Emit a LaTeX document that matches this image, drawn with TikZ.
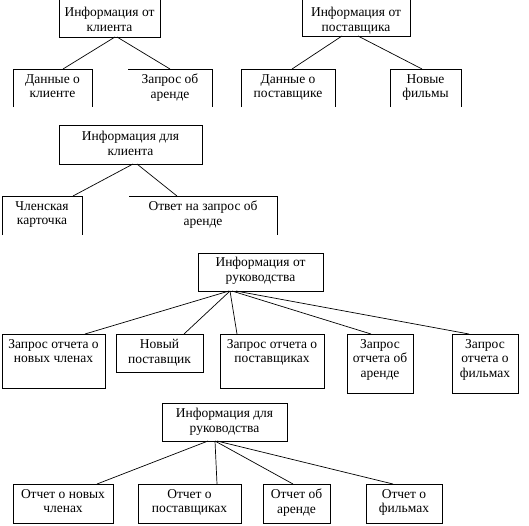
\documentclass[tikz,border=0pt]{standalone}
\usepackage{fontspec}
\setmainfont{Liberation Serif}
\begin{document}
\begin{tikzpicture}[x=1pt,y=-1pt,
  frame/.style={inner sep=0pt, outer sep=0pt, anchor=north west},
  boxed/.style={frame, draw, line width=0.8pt},
  txt/.style={inner sep=0pt, anchor=north, align=center, font=\fontsize{13.5}{14.8}\selectfont},
  conn/.style={line width=0.7pt},
  side/.style={line width=0.8pt}]
\useasboundingbox (0,0) rectangle (529,525);

% ---------- row 1 ----------
\node[frame, minimum width=101, minimum height=39] (A) at (59,-2) {};
\draw[side] (A.north west) -- (A.south west) -- (A.south east) -- (A.north east);
\node[txt] (At) at ([yshift=-9pt]A.north) {Информация от\\клиента};

\node[frame, minimum width=108, minimum height=38] (B) at (302,-2) {};
\draw[side] (B.north west) -- (B.south west) -- (B.south east) -- (B.north east);
\node[txt] (Bt) at ([yshift=-9pt]B.north) {Информация от\\поставщика};

\node[frame, minimum width=79, minimum height=38] (A1) at (13,69) {};
\draw[side] (A1.south west) -- (A1.north west) -- (A1.north east) -- (A1.south east);
\node[txt] (A1t) at ([yshift=-5pt]A1.north) {Данные о\\клиенте};

\node[frame, minimum width=84, minimum height=38] (A2) at (128,69) {};
\draw[side] (A2.north west) -- (A2.north east) -- (A2.south east);
\node[txt] (A2t) at ([yshift=-5pt]A2.north) {Запрос об\\аренде};

\node[frame, minimum width=94, minimum height=38] (B1) at (241,69) {};
\draw[side] (B1.south west) -- (B1.north west) -- (B1.north east) -- (B1.south east);
\node[txt] (B1t) at ([yshift=-5pt]B1.north) {Данные о\\поставщике};

\node[frame, minimum width=71, minimum height=38] (B2) at (390,69) {};
\draw[side] (B2.south west) -- (B2.north west) -- (B2.north east) -- (B2.south east);
\node[txt] (B2t) at ([yshift=-5pt]B2.north) {Новые\\фильмы};

\draw[conn] ([xshift=5.5pt]A.south) -- ([xshift=10.5pt]A1.north);
\draw[conn] ([xshift=7.5pt]A.south) -- (A2.north);
\draw[conn] ([xshift=-14pt]B.south) -- ([xshift=4pt]B1.north);
\draw[conn] ([xshift=2pt]B.south) -- ([xshift=-3.5pt]B2.north);

% ---------- row 2 ----------
\node[boxed, minimum width=143, minimum height=39] (C) at (59,125) {};
\node[txt] (Ct) at ([yshift=-6pt]C.north) {Информация для\\клиента};

\node[frame, minimum width=80, minimum height=39] (C1) at (2,196) {};
\draw[side] (C1.south west) -- (C1.north west) -- (C1.north east) -- (C1.south east);
\node[txt] (C1t) at ([yshift=-5pt]C1.north) {Членская\\карточка};

\node[frame, minimum width=148, minimum height=39] (C2) at (129,196) {};
\draw[side] (C2.north west) -- (C2.north east) -- (C2.south east);
\node[txt] (C2t) at ([yshift=-5pt]C2.north) {Ответ на запрос об\\аренде};

\draw[conn] ([xshift=2.5pt]C.south) -- ([xshift=31pt]C1.north);
\draw[conn] ([xshift=6.5pt]C.south) -- ([xshift=-26pt]C2.north);

% ---------- row 3 ----------
\node[boxed, minimum width=125, minimum height=38] (D) at (198,253) {};
\node[txt] (Dt) at ([yshift=-4pt]D.north) {Информация от\\руководства};

\node[boxed, minimum width=103, minimum height=54] (D1) at (2,334) {};
\node[txt] (D1t) at ([yshift=-5pt]D1.north) {Запрос отчета о\\новых членах};

\node[boxed, minimum width=87, minimum height=38] (D2) at (116,334) {};
\node[txt] (D2t) at ([yshift=-5pt]D2.north) {Новый\\поставщик};

\node[boxed, minimum width=104, minimum height=54] (D3) at (220,334) {};
\node[txt] (D3t) at ([yshift=-5pt]D3.north) {Запрос отчета о\\поставщиках};

\node[boxed, minimum width=66, minimum height=59] (D4) at (347,334) {};
\node[txt] (D4t) at ([yshift=-5pt]D4.north) {Запрос\\отчета об\\аренде};

\node[boxed, minimum width=66, minimum height=59] (D5) at (452,334) {};
\node[txt] (D5t) at ([yshift=-5pt]D5.north) {Запрос\\отчета о\\фильмах};

\draw[conn] ([xshift=-31.5pt]D.south) -- ([xshift=31.5pt]D1.north);
\draw[conn] ([xshift=-30.5pt]D.south) -- ([xshift=24.5pt]D2.north);
\draw[conn] ([xshift=-30.5pt]D.south) -- ([xshift=-35pt]D3.north);
\draw[conn] ([xshift=-28.5pt]D.south) -- ([xshift=-9pt]D4.north);
\draw[conn] ([xshift=-24.5pt]D.south) -- ([xshift=-16pt]D5.north);

% ---------- row 4 ----------
\node[boxed, minimum width=125, minimum height=38] (E) at (162,403) {};
\node[txt] (Et) at ([yshift=-5pt]E.north) {Информация для\\руководства};

\node[boxed, minimum width=100, minimum height=39] (E1) at (13,484) {};
\node[txt] (E1t) at ([yshift=-5pt]E1.north) {Отчет о новых\\членах};

\node[boxed, minimum width=103, minimum height=39] (E2) at (138,484) {};
\node[txt] (E2t) at ([yshift=-5pt]E2.north) {Отчет о\\поставщиках};

\node[boxed, minimum width=67, minimum height=39] (E3) at (263,484) {};
\node[txt] (E3t) at ([yshift=-5pt]E3.north) {Отчет об\\аренде};

\node[boxed, minimum width=76, minimum height=39] (E4) at (366,484) {};
\node[txt] (E4t) at ([yshift=-5pt]E4.north) {Отчет о\\фильмах};

\draw[conn] ([xshift=-16.5pt]E.south) -- ([xshift=34pt]E1.north);
\draw[conn] ([xshift=-9.5pt]E.south) -- ([xshift=27.5pt]E2.north);
\draw[conn] ([xshift=-9.5pt]E.south) -- ([xshift=-3.5pt]E3.north);
\draw[conn] ([xshift=-7.5pt]E.south) -- ([xshift=-11pt]E4.north);
\end{tikzpicture}
\end{document}
